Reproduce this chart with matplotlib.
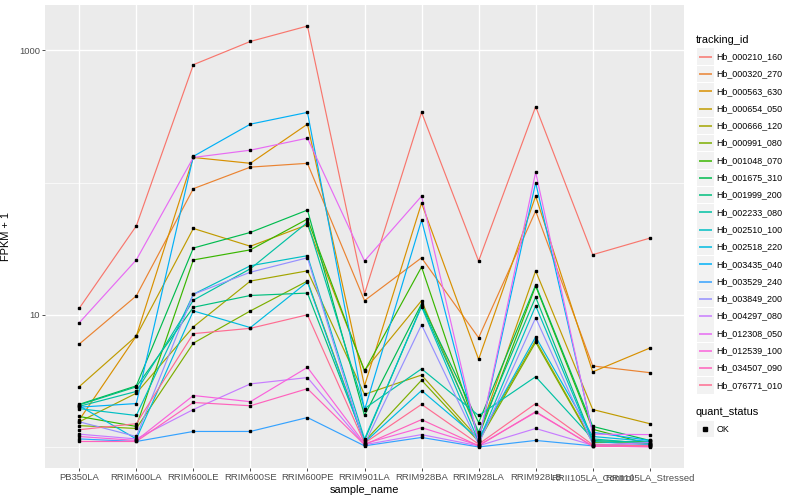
import numpy as np
import matplotlib
matplotlib.use('Agg')
import matplotlib.pyplot as plt
from matplotlib.patches import Rectangle

plt.rcParams['font.family'] = ['Liberation Sans', 'DejaVu Sans']

# samples on the x axis
samples = ['PB350LA', 'RRIM600LA', 'RRIM600LE', 'RRIM600SE', 'RRIM600PE',
           'RRIM901LA', 'RRIM928BA', 'RRIM928LA', 'RRIM928LB',
           'RRII105LA_Control', 'RRII105LA_Stressed']

tracking_ids = ['Hb_000210_160', 'Hb_000320_270', 'Hb_000563_630', 'Hb_000654_050',
                'Hb_000666_120', 'Hb_000991_080', 'Hb_001048_070', 'Hb_001675_310',
                'Hb_001999_200', 'Hb_002233_080', 'Hb_002510_100', 'Hb_002518_220',
                'Hb_003435_040', 'Hb_003529_240', 'Hb_003849_200', 'Hb_004297_080',
                'Hb_012308_050', 'Hb_012539_100', 'Hb_034507_090', 'Hb_076771_010']

# ggplot hue palette for 20 levels
colors = ['#F8766D', '#EA8331', '#D89000', '#C09B00', '#A3A500', '#7CAE00',
          '#39B600', '#00BB4E', '#00BF7D', '#00C1A3', '#00BFC4', '#00BAE0',
          '#00B0F6', '#35A2FF', '#9590FF', '#C77CFF', '#E76BF3', '#FA62DB',
          '#FF62BC', '#FF6C91']

# FPKM + 1 per gene, one value per sample
fpkm = [
    [11.2, 47, 780, 1170, 1530, 14.4, 340, 25.5, 376, 28.5, 38],
    [6.0, 13.9, 90, 131, 140, 12.8, 27, 6.7, 61, 4.1, 3.65],
    [1.6, 6.9, 155, 140, 277, 2.9, 70, 4.6, 79, 3.7, 5.6],
    [2.86, 6.9, 45, 33, 48, 3.8, 12.8, 1.25, 21.5, 1.92, 1.5],
    [1.55, 2.55, 8.1, 18, 21.5, 2.5, 3.5, 1.15, 6.4, 1.1, 1.05],
    [1.45, 1.38, 6.1, 10.7, 18, 1.1, 3.2, 1.1, 6.2, 1.08, 1.1],
    [1.7, 1.43, 26, 31, 53, 3.75, 23, 1.2, 16.5, 1.36, 1.05],
    [2.1, 2.9, 32, 42, 62, 1.73, 12.1, 1.53, 16.8, 1.43, 1.12],
    [2.08, 2.85, 11.4, 14, 14.6, 1.12, 11.7, 1.3, 13.6, 1.12, 1.08],
    [2.03, 2.63, 12.9, 22.3, 50, 1.95, 3.9, 1.73, 3.4, 1.15, 1.06],
    [1.95, 1.73, 14.3, 23.5, 28, 1.15, 11.5, 1.1, 11.7, 1.1, 1.04],
    [2.05, 1.15, 10.7, 8.0, 17.7, 1.08, 2.67, 1.15, 6.8, 1.2, 1.1],
    [2.0, 2.13, 158, 277, 340, 1.9, 52, 1.1, 100, 1.29, 1.12],
    [1.15, 1.1, 1.31, 1.31, 1.67, 1.02, 1.18, 1.0, 1.12, 1.02, 1.02],
    [1.55, 1.2, 14.3, 21, 27, 1.05, 8.4, 1.05, 9.5, 1.05, 1.03],
    [1.25, 1.15, 1.92, 3.0, 3.35, 1.04, 1.24, 1.02, 1.38, 1.03, 1.08],
    [8.7, 26, 155, 176, 217, 25.5, 79, 1.1, 120, 1.25, 1.24],
    [1.2, 1.12, 2.45, 2.2, 4.0, 1.06, 1.4, 1.03, 1.83, 1.02, 1.0],
    [1.1, 1.1, 2.17, 2.05, 2.76, 1.04, 1.61, 1.02, 1.85, 1.01, 1.01],
    [1.35, 1.5, 7.2, 7.9, 10, 1.07, 2.1, 1.05, 2.13, 1.04, 1.02],
]

fig = plt.figure(figsize=(8, 5), dpi=100)
W, H = 800, 500
ax = fig.add_axes([45 / W, 1 - 468 / H, (684 - 45) / W, (468 - 5) / H])
ax.set_facecolor('#EBEBEB')

x = np.arange(len(samples))
for vals, col in zip(fpkm, colors):
    ax.plot(x, vals, color=col, lw=0.85, zorder=3)
for vals in fpkm:
    ax.plot(x, vals, 's', color='black', ms=2.0, zorder=4, lw=0)

ax.set_yscale('log')
lo, hi = np.log10(min(min(v) for v in fpkm)), np.log10(max(max(v) for v in fpkm))
pad = (hi - lo) * 0.05
ax.set_ylim(10 ** (lo - pad), 10 ** (hi + pad))
ax.set_xlim(-0.6, len(samples) - 0.4)

ax.set_yticks([10, 1000])
ax.set_yticklabels(['10', '1000'])
ax.set_yticks([1, 100], minor=True)
ax.yaxis.set_minor_formatter(matplotlib.ticker.NullFormatter())
ax.set_xticks(x)
ax.set_xticklabels(samples)

ax.grid(True, which='major', color='white', lw=1.0, zorder=1)
ax.grid(True, which='minor', axis='y', color='white', lw=0.5, zorder=1)
ax.set_axisbelow(True)
for s in ax.spines.values():
    s.set_visible(False)
ax.tick_params(axis='both', which='major', length=2, width=0.6, color='#333333',
               labelsize=6.8, labelcolor='#4D4D4D', pad=1.5)
ax.tick_params(axis='y', which='minor', length=0)
ax.set_xlabel('sample_name', fontsize=7.9, labelpad=2)
ax.set_ylabel('FPKM + 1', fontsize=7.9, labelpad=6)

# legend drawn in pixel coordinates
lg = fig.add_axes([0, 0, 1, 1], facecolor='none')
lg.set_xlim(0, W)
lg.set_ylim(H, 0)
lg.axis('off')

lg.text(696, 40, 'tracking_id', fontsize=7.9, va='center', ha='left')
for i, (tid, col) in enumerate(zip(tracking_ids, colors)):
    yc = 56.7 + i * 17.3
    lg.add_patch(Rectangle((697, yc - 8.3), 16.6, 16.6, facecolor='#F2F2F2', edgecolor='none'))
    lg.plot([698.5, 711.5], [yc, yc], color=col, lw=1.1, solid_capstyle='butt')
    lg.text(716.5, yc, tid, fontsize=6.4, va='center', ha='left')

lg.text(696, 412, 'quant_status', fontsize=7.9, va='center', ha='left')
lg.add_patch(Rectangle((697, 429 - 8.3), 16.6, 16.6, facecolor='#F2F2F2', edgecolor='none'))
lg.plot([705], [429], 's', color='black', ms=2.2)
lg.text(716.5, 429, 'OK', fontsize=6.4, va='center', ha='left')

fig.savefig('out.png', dpi=100)
